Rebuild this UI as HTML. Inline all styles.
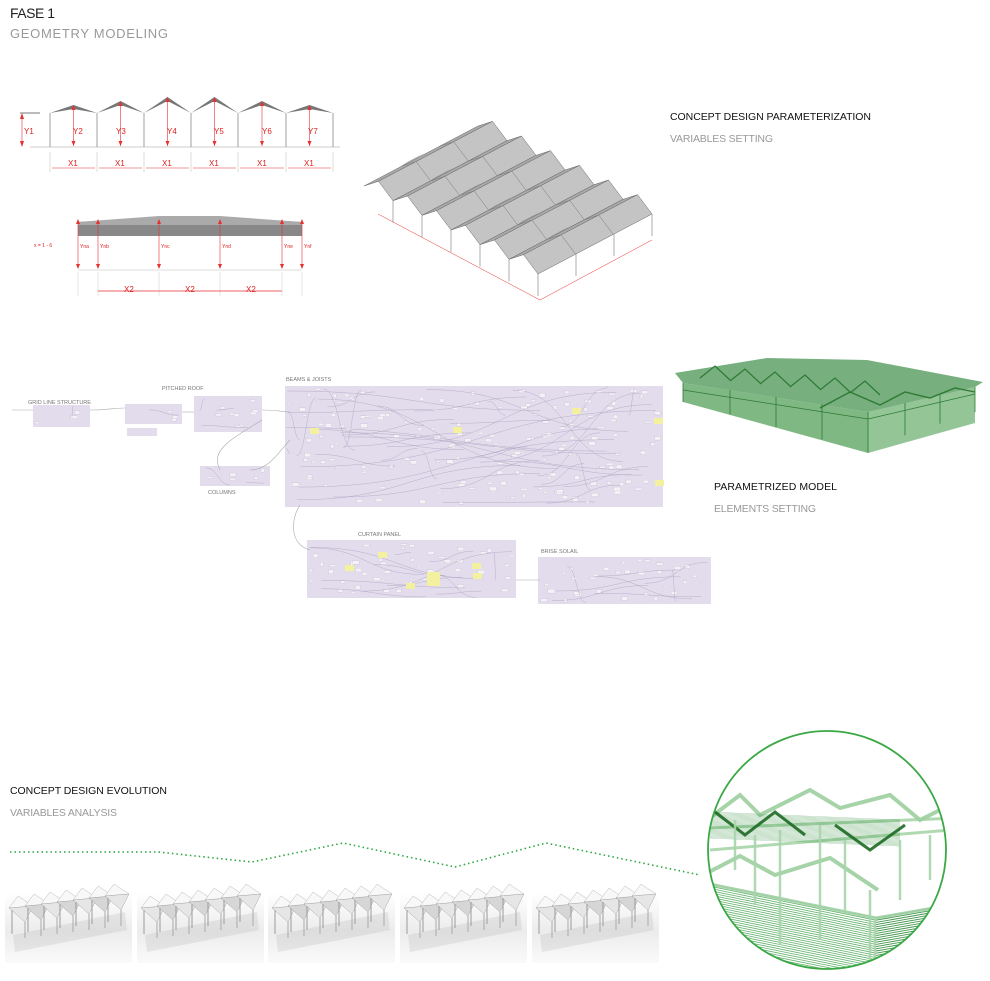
<!DOCTYPE html>
<html><head><meta charset="utf-8"><style>
html,body{margin:0;padding:0;background:#fff;width:990px;height:981px;overflow:hidden}
svg{display:block}
text{font-family:"Liberation Sans",sans-serif}
</style></head><body>
<svg id="s" width="990" height="981" viewBox="0 0 990 981" xmlns="http://www.w3.org/2000/svg">
<defs>
<linearGradient id="thumb" x1="0" y1="0" x2="0" y2="1"><stop offset="0" stop-color="#fff"/><stop offset="0.55" stop-color="#ececec"/><stop offset="1" stop-color="#fafafa"/></linearGradient>
<clipPath id="cc"><circle cx="827" cy="850" r="119"/></clipPath>
</defs>
<text x="10" y="18" font-size="14" fill="#222" textLength="45">FASE 1</text>
<text x="10" y="38" font-size="13" fill="#999" textLength="158">GEOMETRY MODELING</text>
<text x="670" y="120" font-size="10.5" fill="#111" textLength="201">CONCEPT DESIGN PARAMETERIZATION</text>
<text x="670" y="142" font-size="10.5" fill="#999" textLength="103">VARIABLES SETTING</text>
<text x="714" y="490" font-size="10.5" fill="#111" textLength="123">PARAMETRIZED MODEL</text>
<text x="714" y="512" font-size="10.5" fill="#999" textLength="102">ELEMENTS SETTING</text>
<text x="10" y="794" font-size="10.5" fill="#111" textLength="157">CONCEPT DESIGN EVOLUTION</text>
<text x="10" y="816" font-size="10.5" fill="#999" textLength="107">VARIABLES ANALYSIS</text>
<g id="gen"></g>
<g font-size="8" fill="#e02020">
<text x="24" y="134">Y1</text><text x="73" y="134">Y2</text><text x="116" y="134">Y3</text><text x="167" y="134">Y4</text><text x="214" y="134">Y5</text><text x="262" y="134">Y6</text><text x="308" y="134">Y7</text>
<text x="68" y="166">X1</text><text x="115" y="166">X1</text><text x="162" y="166">X1</text><text x="209" y="166">X1</text><text x="257" y="166">X1</text><text x="304" y="166">X1</text>
<text x="124" y="292">X2</text><text x="185" y="292">X2</text><text x="246" y="292">X2</text>
</g>
<g font-size="5" fill="#e02020"><text x="34" y="247">x = 1 - 6</text><text x="80" y="248">Yna</text><text x="100" y="248">Ynb</text><text x="161" y="248">Ync</text><text x="222" y="248">Ynd</text><text x="284" y="248">Yne</text><text x="304" y="248">Ynf</text></g>
<g font-size="5.5" fill="#777"><text x="28" y="404">GRID LINE STRUCTURE</text><text x="162" y="390">PITCHED ROOF</text><text x="286" y="381">BEAMS &amp; JOISTS</text><text x="208" y="494">COLUMNS</text><text x="358" y="536">CURTAIN PANEL</text><text x="541" y="553">BRISE SOLAIL</text></g>
</svg>
<script>
const NS="http://www.w3.org/2000/svg",G=document.getElementById("gen");
function el(t,a,p){const e=document.createElementNS(NS,t);for(const k in a)e.setAttribute(k,a[k]);(p||G).appendChild(e);return e}
function pl(pts,a,p){a.points=pts.map(q=>q.join(",")).join(" ");return el("polygon",a,p)}
function ln(x1,y1,x2,y2,c,w,extra,p){return el("line",Object.assign({x1,y1,x2,y2,stroke:c,"stroke-width":w||1},extra||{}),p)}
let seed=7;function r(){seed=(seed*16807)%2147483647;return seed/2147483647}
const RED="#e83030";
// top elevation
const cx=[50,97,144,191,238,286,333],rh=[105,101,97,97,101,105];
ln(30,147,340,147,"#ddd",1.5);ln(20,113,40,113,"#777",1);
for(let i=0;i<7;i++)ln(cx[i],113,cx[i],147,"#888",0.8);
for(let i=0;i<6;i++){const m=(cx[i]+cx[i+1])/2;
 pl([[cx[i],113],[m,rh[i]],[cx[i+1],113],[m,rh[i]+4]],{fill:"#777"});
 ln(m,rh[i]+1,m,146,RED,0.6);pl([[m-2,rh[i]+5],[m+2,rh[i]+5],[m,rh[i]]],{fill:RED});pl([[m-2,141],[m+2,141],[m,146]],{fill:RED});
 ln(cx[i]+2,168,cx[i+1]-2,168,RED,0.6);ln(cx[i],152,cx[i],172,"#bbb",0.5);}
ln(22,114,22,146,RED,0.6);pl([[20,119],[24,119],[22,113]],{fill:RED});pl([[20,141],[24,141],[22,147]],{fill:RED});
ln(333,152,333,172,"#bbb",0.5);
// second elevation
pl([[78,222],[159,217],[220,217],[302,222],[302,236],[78,236]],{fill:"#888"});
pl([[78,222],[159,216],[220,216],[302,222],[302,225],[78,225]],{fill:"#aaa"});
ln(78,270,302,270,"#ddd",1);
[78,98,159,220,282,302].forEach(x=>{ln(x,220,x,268,RED,0.6);pl([[x-2,224],[x+2,224],[x,219]],{fill:RED});pl([[x-2,264],[x+2,264],[x,269]],{fill:RED});ln(x,272,x,296,"#ccc",0.5)});
ln(98,291,282,291,RED,0.7);
// iso roof
const P0=[364,186],P6=[538,274],v=[114,-60];
const cols=[];
for(let i=0;i<6;i++){const a=[P0[0]+(P6[0]-P0[0])*i/6,P0[1]+(P6[1]-P0[1])*i/6],b=[P0[0]+(P6[0]-P0[0])*(i+1)/6,P0[1]+(P6[1]-P0[1])*(i+1)/6];
 cols.push(a);
 const m=[(a[0]+b[0])/2,(a[1]+b[1])/2-12];
 pl([a,m,[m[0]+v[0],m[1]+v[1]],[a[0]+v[0],a[1]+v[1]]],{fill:"#a9a9a9",stroke:"#666","stroke-width":0.5});
 pl([m,b,[b[0]+v[0],b[1]+v[1]],[m[0]+v[0],m[1]+v[1]]],{fill:"#c4c4c4",stroke:"#666","stroke-width":0.5});
 for(let t of [0.33,0.66])ln(a[0]+v[0]*t,a[1]+v[1]*t,m[0]+v[0]*t,m[1]+v[1]*t,"#777",0.5),ln(m[0]+v[0]*t,m[1]+v[1]*t,b[0]+v[0]*t,b[1]+v[1]*t,"#777",0.5);
 // dark band near valley
 pl([[a[0]+v[0]*0.3,a[1]+v[1]*0.3],[a[0]+v[0]*0.3+9,a[1]+v[1]*0.3-6],[a[0]+v[0]*0.45+9,a[1]+v[1]*0.45-6],[a[0]+v[0]*0.45,a[1]+v[1]*0.45]],{fill:"#8a8a8a",opacity:0.6});
}
cols.push(P6);
cols.forEach((p,i)=>{if(i>0)ln(p[0],p[1],p[0],p[1]+22,"#999",0.8)});
for(let k=1;k<=3;k++){const p=[P6[0]+v[0]*k/3,P6[1]+v[1]*k/3];ln(p[0],p[1],p[0],p[1]+22,"#999",0.8);}
ln(378,214,540,300,RED,0.5);ln(540,300,652,240,RED,0.5);
// node graph
const NB=[[33,405,57,22],[125,404,57,20],[127,428,30,8],[194,396,68,36],[285,386,378,121],[200,466,70,20],[307,540,209,58],[538,557,173,47]];
NB.forEach(b=>{el("rect",{x:b[0],y:b[1],width:b[2],height:b[3],fill:"#e3dcec"});
 const n=Math.floor(b[2]*b[3]/260);
 for(let k=0;k<n;k++){const x=b[0]+2+r()*(b[2]-8),y=b[1]+2+r()*(b[3]-6);el("rect",{x,y,width:3+r()*4,height:1.5+r()*2.5,fill:"#f4f2f6",stroke:"#b0a8c0","stroke-width":0.2});}
 for(let k=0;k<n/4;k++){const x1=b[0]+r()*b[2],y1=b[1]+r()*b[3],x2=b[0]+r()*b[2],y2=b[1]+r()*b[3];el("path",{d:`M${x1},${y1}C${(x1+x2)/2},${y1} ${(x1+x2)/2},${y2} ${x2},${y2}`,fill:"none",stroke:"#a59cba","stroke-width":0.35});}
});
[[310,428],[453,427],[572,408],[655,480],[345,565],[430,572],[378,552],[406,583],[473,573],[472,563],[654,418]].forEach(p=>el("rect",{x:p[0],y:p[1],width:9,height:6,fill:"#f3f0a0"}));
el("rect",{x:427,y:572,width:13,height:14,fill:"#f3f0a0"});
[["M12,410 L33,410"],["M90,410 C110,410 110,408 125,408"],["M182,412 L194,412"],["M262,410 C280,410 280,412 290,412"],["M262,420 C230,440 210,450 220,470"],["M250,470 C270,470 280,450 290,440"],["M300,505 C290,520 290,545 310,550"],["M516,580 L540,580"]].forEach(d=>el("path",{d:d[0],fill:"none",stroke:"#aaa","stroke-width":0.6}));
// green model
pl([[683,383],[868,412],[868,453],[683,402]],{fill:"#72b077",opacity:0.9});
pl([[868,412],[975,387],[975,423],[868,453]],{fill:"#88bf8b",opacity:0.9});
pl([[675,373],[767,358],[867,360],[983,382],[975,387],[868,412],[683,383]],{fill:"#4b9453",opacity:0.75});
for(let i=0;i<6;i++){const x=700+i*30;el("polyline",{points:`${x},${378+i*3} ${x+15},${366+i*3} ${x+30},${380+i*3}`,fill:"none",stroke:"#2c7a34","stroke-width":1.2});}
el("polyline",{points:"820,408 850,392 880,405 905,392 930,398 955,388 975,392",fill:"none",stroke:"#2c7a34","stroke-width":1.4});
[[683,383],[730,390],[776,397],[822,404],[868,412]].forEach(p=>ln(p[0],p[1],p[0],p[1]+19+(p[0]-683)/8.5,"#2c7a34",0.8));
[[905,403],[940,395],[975,387]].forEach(p=>ln(p[0],p[1],p[0],p[1]+36-(p[0]-868)/10,"#2c7a34",0.8));
ln(683,390,868,419,"#2c7a34",0.7);ln(868,419,975,394,"#2c7a34",0.7);
// dotted evolution line
el("polyline",{points:"10,852 158,852 252,862 343,843 455,867 546,843 700,875",fill:"none",stroke:"#2ea843","stroke-width":1.6,"stroke-dasharray":"1.5 3"});
// thumbnails
[5,137,268,400,532].forEach((x,j)=>{el("rect",{x,y:893,width:127,height:70,fill:"url(#thumb)"});
 pl([[x+8,935],[x+120,912],[x+122,930],[x+10,952]],{fill:"#999",opacity:0.18});
 for(let i=0;i<7;i++){const bx=x+4+i*16,by=902-i*2;
  pl([[bx,by+6],[bx+9,by-6],[bx+24,by+4]],{fill:"#f8f8f8",stroke:"#aaa","stroke-width":0.4});
  pl([[bx,by+6],[bx+24,by+4],[bx+16,by+20]],{fill:i%2?"#d6d6d6":"#e6e6e6",stroke:"#999","stroke-width":0.4});
  ln(bx+3,by+8,bx+3,by+32,"#9a9a9a",1);ln(bx+16,by+20,bx+16,by+36,"#aaa",1);}
});
// circle detail
const C=el("g",{"clip-path":"url(#cc)"});
for(let y=0;y<90;y+=2.2)ln(700,882+y,876,918+y,"#3d9e48",0.8,{opacity:0.8},C);
for(let y=0;y<70;y+=2.2)ln(876,918+y,950,905+y,"#2f8a3a",0.9,{opacity:0.9},C);
function cp(pts,c,w,o){el("polyline",{points:pts,fill:"none",stroke:c,"stroke-width":w,opacity:o},C)}
cp("700,882 876,918 950,905","#a0d0a4",3,0.9);
cp("707,820 740,795 760,815 810,790 840,808 890,795 920,820 950,805","#9ccf9f",4,0.9);
cp("707,873 740,856 775,875 830,858 878,890","#9ccf9f",4,0.9);
cp("707,828 960,818","#9ccf9f",3,0.8);
cp("710,850 950,830","#9ccf9f",3,0.8);
for(let i=0;i<30;i++){const y=812+i*0.9;ln(710,y,900,y+8,"#2e8d38",0.4,{opacity:0.5},C);}
cp("715,812 745,835 775,812 805,835","#1d6a25",3,0.9);
cp("835,825 870,850 905,825","#1d6a25",3,0.9);
[[735,820,870],[755,835,905],[780,830,945],[820,825,940],[845,840,910],[900,840,900],[930,835,880],[870,890,970],[875,918,970]].forEach(a=>ln(a[0],a[1],a[0],a[2],"#a8d4ab",2.5,{opacity:0.9},C));
el("circle",{cx:827,cy:850,r:119,fill:"none",stroke:"#3aa845","stroke-width":1.8});
</script>
</body></html>
